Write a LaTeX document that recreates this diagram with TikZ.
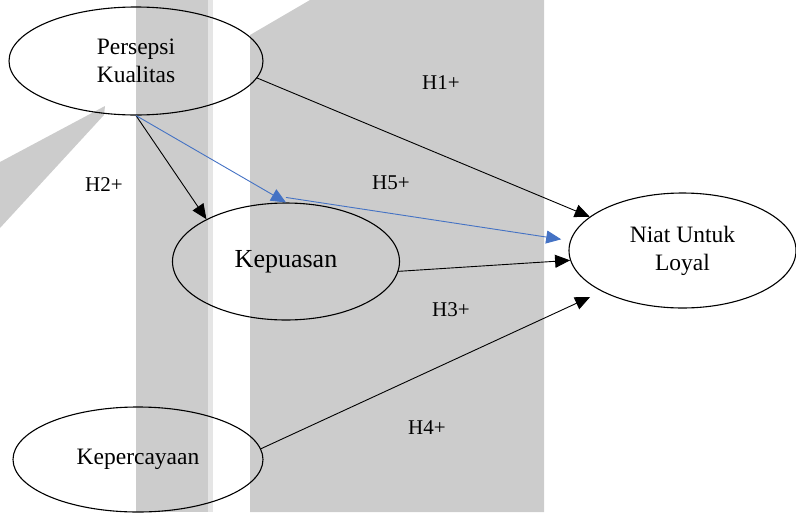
\documentclass[tikz,border=0pt]{standalone}
\usepackage{fontspec}
\setmainfont{Liberation Serif}
\usetikzlibrary{arrows.meta,shapes.geometric}
\definecolor{bandGrey}{HTML}{CCCCCC}
\definecolor{bandLight}{HTML}{E5E5E5}
\definecolor{wordBlue}{HTML}{4472C4}

\begin{document}
\begin{tikzpicture}[x=1pt, y=-1pt,
  var/.style={draw, ellipse, line width=1.1pt, inner sep=0pt, align=center,
              font=\fontsize{23.5}{28}\selectfont},
  arr/.style={-{Triangle[length=15pt,width=13pt]}, line width=0.9pt},
  hyp/.style={font=\fontsize{21}{24}\selectfont, inner sep=0pt}
]
  \useasboundingbox (0,0) rectangle (796,512);

  % Background bands
  \fill[bandGrey] (136,0) rectangle (208,512);
  \fill[bandLight] (208,0) rectangle (213,512);
  \fill[bandGrey] (250,512) -- (250,35) -- (310,0) -- (544,0) -- (544,512) -- cycle;
  \fill[bandGrey] (0,162) -- (105,106) -- (104,115) -- (0,228) -- cycle;

  % Constructs
  \node[var, minimum width=254pt, minimum height=108pt] (persepsi) at (136,61)
    {Persepsi\\Kualitas};
  \node[var, minimum width=227pt, minimum height=117pt,
        font=\fontsize{26}{30}\selectfont] (kepuasan) at (286,261.5) {Kepuasan};
  \node[var, minimum width=227pt, minimum height=115pt] (niat) at (682.5,250.5)
    {Niat Untuk\\Loyal};
  \node[var, minimum width=250pt, minimum height=105pt] (kepercayaan) at (138,459.5)
    {Kepercayaan};

  % Hypotheses
  \draw[arr] (persepsi.-8) -- (niat.160);
  \draw[arr] (persepsi.south) -- (kepuasan.152);
  \draw[arr] (kepuasan.-5) -- (niat.185);
  \draw[arr, shorten >=13pt] (kepercayaan.5) -- (niat.207);

  % Mediation path
  \draw[arr, wordBlue] (persepsi.south) -- (kepuasan.north);
  \draw[arr, wordBlue, shorten >=9pt] ([yshift=5pt]kepuasan.north) -- (niat.175);

  \node[hyp] (h1) at (441,83) {H1+};
  \node[hyp] (h2) at (104,185) {H2+};
  \node[hyp] (h3) at (451,310) {H3+};
  \node[hyp] (h4) at (427,428) {H4+};
  \node[hyp] (h5) at (391,183) {H5+};
\end{tikzpicture}
\end{document}
